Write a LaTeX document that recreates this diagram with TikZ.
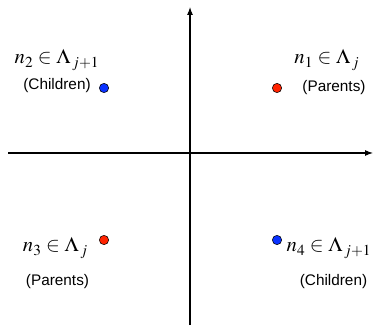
\documentclass[tikz,border=0pt]{standalone}
\usepackage{amsmath}
\usepackage{mathptmx}
\usepackage{fontspec}
\setmainfont{Liberation Sans}
\usepackage{tikz}
\usetikzlibrary{arrows.meta,positioning}

\definecolor{parred}{RGB}{255,35,0}
\definecolor{chblue}{RGB}{10,50,255}

\begin{document}
\begin{tikzpicture}[x=0.75pt,y=-0.75pt]
  \tikzstyle{pnt}=[circle,draw,line width=0.4pt,minimum size=7pt,inner sep=0pt]
  \tikzstyle{mlbl}=[inner sep=0pt,font=\fontsize{15.5}{18}\selectfont]
  \tikzstyle{tlbl}=[inner sep=0pt,font=\fontsize{11.5}{14}\selectfont]
  \useasboundingbox (0,0) rectangle (373,327);

  \coordinate (xl) at (8,153);
  \coordinate (xr) at (373,153);
  \coordinate (yb) at (190,325);
  \coordinate (yt) at (190,7);

  \draw[line width=0.8pt,-{Latex[length=6pt,width=4.5pt]}] (xl) -- (xr);
  \draw[line width=0.8pt,-{Latex[length=6pt,width=4.5pt]}] (yb) -- (yt);

  \node[pnt,fill=chblue] (p2) at (104,88) {};
  \node[pnt,fill=parred] (p1) at (277,88) {};
  \node[pnt,fill=parred] (p3) at (104,240) {};
  \node[pnt,fill=chblue] (p4) at (277,240) {};

  \node[mlbl] (n2) at (57,60) {$n_2\in\Lambda_{\,j+1}$};
  \node[tlbl] (c2) at (57,86) {(Children)};
  \node[mlbl] (n1) at (327,60) {$n_1\in\Lambda_{\,j}$};
  \node[tlbl] (c1) at (334,88) {(Parents)};
  \node[mlbl] (n3) at (55.5,248) {$n_3\in\Lambda_{\,j}$};
  \node[tlbl] (c3) at (57.5,282) {(Parents)};
  \node[mlbl] (n4) at (329,248) {$n_4\in\Lambda_{\,j+1}$};
  \node[tlbl] (c4) at (333.5,282) {(Children)};
\end{tikzpicture}
\end{document}
